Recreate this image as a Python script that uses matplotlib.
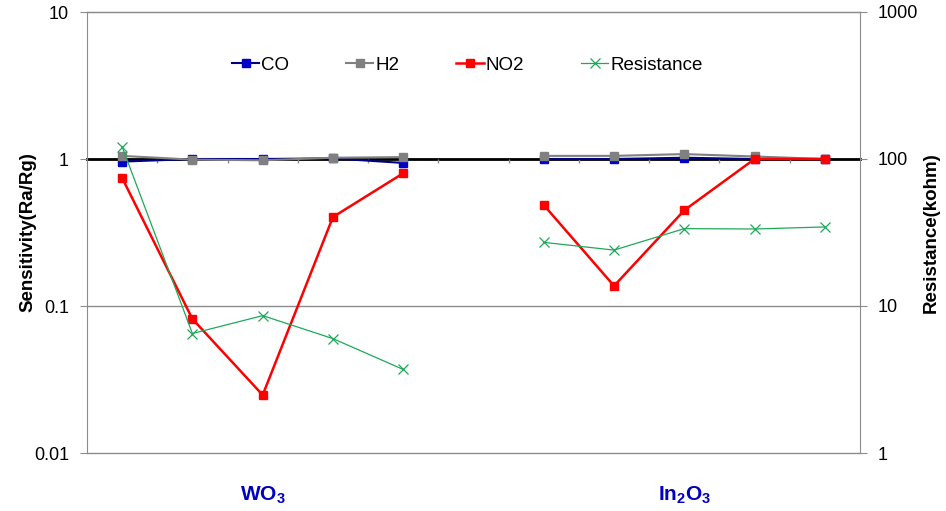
import matplotlib
matplotlib.use("Agg")
import matplotlib.pyplot as plt
import numpy as np

plt.rcParams['font.family'] = ['Liberation Sans', 'DejaVu Sans']
plt.rcParams['mathtext.fontset'] = 'custom'
plt.rcParams['mathtext.rm'] = 'Liberation Sans:bold'
plt.rcParams['mathtext.bf'] = 'Liberation Sans:bold'
plt.rcParams['mathtext.it'] = 'Liberation Sans:bold'

nan = np.nan
# 11 category slots: 5 for WO3, one empty gap, 5 for In2O3
co = [0.96, 1.0, 1.0, 1.01, 0.94, nan, 1.0, 1.0, 1.02, 1.0, 1.0]
h2 = [1.05, 0.99, 0.98, 1.02, 1.03, nan, 1.05, 1.05, 1.08, 1.04, 1.0]
no2 = [0.743, 0.0816, 0.0248, 0.403, 0.80, nan, 0.486, 0.137, 0.448, 1.0, 1.0]
resistance = [121, 6.5, 8.6, 6.0, 3.7, nan, 27.1, 24.0, 33.6, 33.4, 34.5]
groups = [r'$\mathbf{WO_3}$', r'$\mathbf{In_2O_3}$']
group_centers = [2, 8]

left_ticks = [0.01, 0.1, 1, 10]
left_labels = ['0.01', '0.1', '1', '10']
right_ticks = [1, 10, 100, 1000]
right_labels = ['1', '10', '100', '1000']

x = np.arange(len(co))

fig = plt.figure(figsize=(9.46, 5.11), dpi=100)
ax = fig.add_axes([87/946, 1 - 453/511, (860-87)/946, (453-12)/511])
ax2 = ax.twinx()

ax.set_yscale('log')
ax.set_ylim(0.01, 10)
ax.set_xlim(-0.5, len(co) - 0.5)
ax2.set_yscale('log')
ax2.set_ylim(1, 1000)

grey = '#8c8c8c'
# gridlines
for t in left_ticks:
    ax.axhline(t, color=grey, lw=1.0, zorder=0.5, clip_on=False)

# category axis crossing at 1
ax.spines['bottom'].set_position(('data', 1))
ax.spines['bottom'].set_color('black')
ax.spines['bottom'].set_linewidth(2)
ax.spines['bottom'].set_zorder(1)
ax.set_xticks(np.arange(0.5, len(co) - 0.5, 1.0))
ax.tick_params(axis='x', which='both', direction='out', length=3, color=grey,
               width=1, labelbottom=False)
for s in ['top', 'left']:
    ax.spines[s].set_color(grey)
ax.spines['right'].set_visible(False)
for s in ['top', 'bottom', 'left']:
    ax2.spines[s].set_visible(False)
ax2.spines['right'].set_color(grey)

ax.set_yticks(left_ticks)
ax.set_yticklabels(left_labels)
ax.yaxis.set_minor_locator(matplotlib.ticker.NullLocator())
ax.tick_params(axis='y', which='major', length=5, color=grey, pad=8, labelsize=13)
ax2.set_yticks(right_ticks)
ax2.set_yticklabels(right_labels)
ax2.yaxis.set_minor_locator(matplotlib.ticker.NullLocator())
ax2.tick_params(axis='y', which='major', length=5, color=grey, pad=8, labelsize=13)

l1, = ax.plot(x, co, color='#000080', lw=1.5, marker='s', ms=5.5,
              mfc='#0000C8', mec='#0000C8', label='CO', zorder=3)
l2, = ax.plot(x, h2, color='#808080', lw=1.5, marker='s', ms=5.5,
              mfc='#808080', mec='#808080', label='H2', zorder=3)
l3, = ax.plot(x, no2, color='#FF0000', lw=1.8, marker='s', ms=5.5,
              mfc='#FF0000', mec='#FF0000', label='NO2', zorder=3)
l4, = ax2.plot(x, resistance, color='#1FA85A', lw=0.9, marker='x', ms=7,
               mew=0.9, label='Resistance', zorder=3)

ax.set_ylabel('Sensitivity(Ra/Rg)', fontsize=13.5, fontweight='bold')
ax.yaxis.set_label_coords((36 - 87) / 773, 0.5)
ax2.set_ylabel('Resistance(kohm)', fontsize=13.5, fontweight='bold')
ax2.yaxis.set_label_coords(1 + (923 - 860) / 773, 0.5)

for g, c in zip(groups, group_centers):
    ax.text(c, -0.095, g, transform=ax.get_xaxis_transform(), ha='center',
            va='center', fontsize=15, color='#0000C0')

leg = ax.legend(handles=[l1, l2, l3, l4], loc='center', ncol=4,
                bbox_to_anchor=(0.492, 1 - 53/441), frameon=False, fontsize=13.5,
                handlelength=1.45, handletextpad=0.1, columnspacing=3.05)

fig.savefig('out.png', dpi=100)
